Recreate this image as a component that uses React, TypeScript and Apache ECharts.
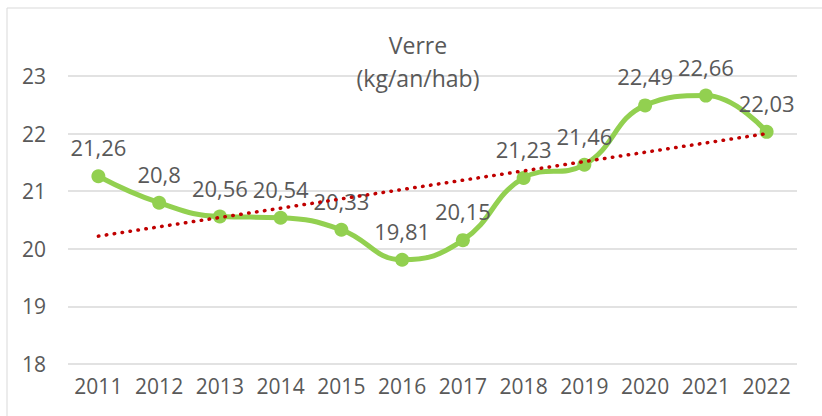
import React, { useEffect, useRef } from "react";
import * as echarts from "echarts";

const years = ["2011", "2012", "2013", "2014", "2015", "2016", "2017", "2018", "2019", "2020", "2021", "2022"];
const verre = [21.26, 20.8, 20.56, 20.54, 20.33, 19.81, 20.15, 21.23, 21.46, 22.49, 22.66, 22.03];
// linear trend line end points
const trendEnds = [20.22, 22.0];
const yTicks = { min: 18, max: 23, interval: 1 };
const titleLines = ["Verre", "(kg/an/hab)"];

const FONT = "'Open Sans', 'Noto Sans', sans-serif";
const TEXT = "#595959";

export default function App() {
  const ref = useRef<HTMLDivElement>(null);
  useEffect(() => {
    if (!ref.current) return;
    const chart = echarts.init(ref.current, undefined, { renderer: "svg" });
    const trendData = years.map((_, i) =>
      i === 0 ? trendEnds[0] : i === years.length - 1 ? trendEnds[1] : null
    );
    chart.setOption({
      animation: false,
      backgroundColor: "#ffffff",
      textStyle: { fontFamily: FONT },
      graphic: [
        {
          type: "rect",
          shape: { x: 7, y: 8, width: 840, height: 440 },
          style: { fill: "none", stroke: "#d9d9d9", lineWidth: 1 },
          z: 0,
        },
        {
          type: "text",
          x: 418,
          y: 28,
          style: {
            text: titleLines.join("\n"),
            fill: TEXT,
            font: `23px ${FONT}`,
            align: "center",
            verticalAlign: "top",
            lineHeight: 33,
          },
          z: 1,
        },
      ],
      grid: { left: 68, right: 25, top: 76, bottom: 52, containLabel: false },
      xAxis: {
        type: "category",
        data: years,
        boundaryGap: true,
        axisLine: { show: false },
        axisTick: { show: false },
        axisLabel: { color: TEXT, fontSize: 21, fontFamily: FONT, margin: 11, interval: 0 },
        splitLine: { show: false },
      },
      yAxis: {
        type: "value",
        min: yTicks.min,
        max: yTicks.max,
        interval: yTicks.interval,
        axisLine: { show: false },
        axisTick: { show: false },
        axisLabel: { color: TEXT, fontSize: 21, fontFamily: FONT, margin: 22 },
        splitLine: { lineStyle: { color: "#d9d9d9", width: 1.5 } },
      },
      series: [
        {
          type: "line",
          data: verre,
          smooth: 0.45,
          symbol: "circle",
          symbolSize: 14,
          lineStyle: { color: "#92D050", width: 5 },
          itemStyle: { color: "#92D050" },
          label: {
            show: true,
            position: "top",
            distance: 11,
            color: TEXT,
            fontSize: 22,
            fontFamily: FONT,
            formatter: (p: any) => String(p.value).replace(".", ","),
          },
          z: 2,
        },
        {
          type: "line",
          data: trendData,
          connectNulls: true,
          symbol: "none",
          lineStyle: { color: "#C00000", width: 3.5, type: [0.5, 7.5], cap: "round" },
          z: 3,
          silent: true,
        },
      ],
    });
    return () => chart.dispose();
  }, []);
  return <div ref={ref} style={{ width: 822, height: 416, position: "absolute", left: 0, top: 0 }} />;
}
